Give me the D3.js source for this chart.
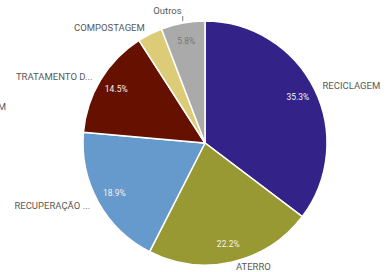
<!DOCTYPE html>
<html>
<head>
<meta charset="utf-8">
<script src="https://cdn.jsdelivr.net/npm/d3@7"></script>
<style>
  body { margin: 0; background: #fff; }
  svg { display: block; }
  text { font-family: Roboto, "Liberation Sans", sans-serif; }
</style>
</head>
<body>
<div id="chart"></div>
<script>
const categories = ['RECICLAGEM', 'ATERRO', 'RECUPERAÇÃO ...', 'TRATAMENTO D...', 'COMPOSTAGEM', 'Outros'];
const shares = [35.3, 22.2, 18.9, 14.5, 3.3, 5.8];
const percentLabels = ['35.3%', '22.2%', '18.9%', '14.5%', '', '5.8%'];
const colors = ['#332288', '#999933', '#6699cc', '#661100', '#ddcc77', '#aaaaaa'];

const width = 391;
const height = 272;
const cx = 205;
const cy = 143;
const radius = 122;

const data = categories.map((name, i) => ({ name, value: shares[i], pct: percentLabels[i], color: colors[i] }));

const svg = d3.select('#chart')
  .append('svg')
  .attr('width', width)
  .attr('height', height);

const pie = d3.pie().sort(null).value(d => d.value);
const arc = d3.arc().innerRadius(0).outerRadius(radius);
const pctArc = d3.arc().innerRadius(radius * 0.85).outerRadius(radius * 0.85);
const outerArc = d3.arc().innerRadius(radius + 7).outerRadius(radius + 7);

const arcs = pie(data);
const g = svg.append('g').attr('transform', `translate(${cx},${cy})`);

g.selectAll('path')
  .data(arcs)
  .join('path')
  .attr('d', arc)
  .attr('fill', d => d.data.color)
  .attr('stroke', '#fff')
  .attr('stroke-width', 1.5);

g.selectAll('text.pct')
  .data(arcs)
  .join('text')
  .attr('class', 'pct')
  .attr('transform', d => `translate(${pctArc.centroid(d)})`)
  .attr('text-anchor', 'middle')
  .attr('dy', '0.35em')
  .attr('font-size', 8.5)
  .attr('fill', d => d.data.name === 'Outros' ? '#777' : '#f2f2f2')
  .text(d => d.data.pct);

g.selectAll('text.name')
  .data(arcs)
  .join('text')
  .attr('class', 'name')
  .attr('transform', d => {
    const [x, y] = outerArc.centroid(d);
    const mid = (d.startAngle + d.endAngle) / 2;
    let dx = mid < Math.PI ? 2 : -2;
    let dy = 0;
    if (d.data.name === 'Outros') { dx = 0; dy = -5; }
    if (d.data.name === 'ATERRO') { dy = -2; }
    return `translate(${x + dx},${y + dy})`;
  })
  .attr('text-anchor', d => ((d.startAngle + d.endAngle) / 2 < Math.PI ? 'start' : 'end'))
  .attr('dy', '0.35em')
  .attr('font-size', 9.5)
  .attr('fill', '#595959')
  .text(d => d.data.name);

// small leader tick for "Outros"
const outros = arcs[arcs.length - 1];
const tip = d3.arc().innerRadius(radius + 1).outerRadius(radius + 1).centroid(outros);
g.append('line')
  .attr('x1', tip[0]).attr('y1', tip[1] - 1)
  .attr('x2', tip[0]).attr('y2', tip[1] - 6)
  .attr('stroke', '#595959')
  .attr('stroke-width', 0.8);

// clipped label at the left edge
svg.append('text')
  .attr('x', 6)
  .attr('y', 110)
  .attr('text-anchor', 'end')
  .attr('font-size', 9.5)
  .attr('fill', '#595959')
  .text('COMPOSTAGEM');
</script>
</body>
</html>
